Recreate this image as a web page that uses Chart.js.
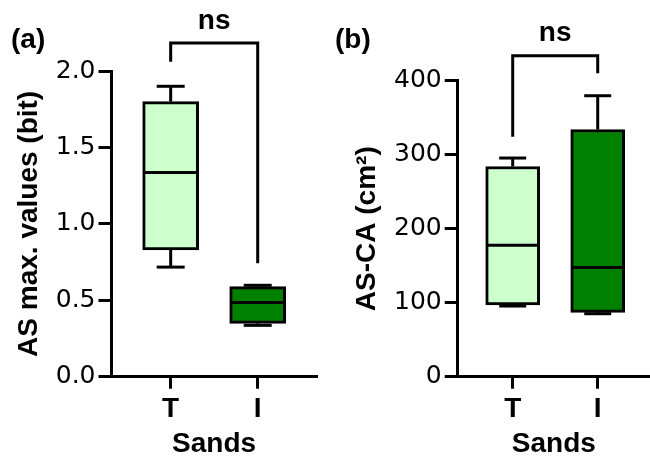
<!DOCTYPE html>
<html>
<head>
<meta charset="utf-8">
<script src="https://cdn.jsdelivr.net/npm/chart.js@4.4.1/dist/chart.umd.min.js"></script>
<style>
  html, body { margin: 0; padding: 0; background: #ffffff; }
  #wrap { position: relative; width: 650px; height: 456px; overflow: hidden; }
  .panel { position: absolute; top: 0; width: 325px; height: 456px; }
</style>
</head>
<body>
<div id="wrap">
  <div class="panel" style="left:0px"><canvas id="chartA" width="325" height="456"></canvas></div>
  <div class="panel" style="left:325px"><canvas id="chartB" width="325" height="456"></canvas></div>
</div>
<script>
// ---------- data ----------
const categories = ['T', 'I'];
const boxColors = ['#ccffcc', '#008000'];

// Panel (a): AS max. values (bit)
const minA    = [0.717, 0.336];
const q1A     = [0.829, 0.349];
const medianA = [1.336, 0.486];
const q3A     = [1.800, 0.589];
const maxA    = [1.900, 0.598];
const yTicksA = [0, 0.5, 1.0, 1.5, 2.0];
const bracketA = [2.06, 2.183, 0.742];   // left leg end, bar level, right leg end
const sigA = 'ns';

// Panel (b): AS-CA (cm²)
const minB    = [95.5, 85.1];
const q1B     = [96.9, 87.0];
const medianB = [177.6, 147.6];
const q3B     = [284.0, 334.0];
const maxB    = [295.5, 379.7];
const yTicksB = [0, 100, 200, 300, 400];
const bracketB = [324.3, 433.6, 410.0];
const sigB = 'ns';

// ---------- styling ----------
const BOLD = '"Liberation Sans", Arial, Helvetica, sans-serif';
const TICKFONT = '"DejaVu Sans", "Liberation Sans", Arial, sans-serif';
const LW = 3;

const boxPlotPlugin = {
  id: 'boxWhiskers',
  afterDatasetsDraw(chart, args, opts) {
    const ctx = chart.ctx;
    const xs = chart.scales.x, ys = chart.scales.y;
    const meta = chart.getDatasetMeta(0);
    ctx.save();
    ctx.strokeStyle = '#000';
    ctx.lineWidth = LW;
    ctx.lineCap = 'butt';
    for (let i = 0; i < opts.mins.length; i++) {
      const el = meta.data[i];
      const cx = xs.getPixelForValue(i);
      const half = el.width / 2;
      const capHalf = opts.capWidth / 2;
      // upper whisker
      ctx.beginPath();
      ctx.moveTo(cx, ys.getPixelForValue(opts.q3s[i]));
      ctx.lineTo(cx, ys.getPixelForValue(opts.maxs[i]));
      ctx.stroke();
      ctx.beginPath();
      ctx.moveTo(cx - capHalf, ys.getPixelForValue(opts.maxs[i]));
      ctx.lineTo(cx + capHalf, ys.getPixelForValue(opts.maxs[i]));
      ctx.stroke();
      // lower whisker
      ctx.beginPath();
      ctx.moveTo(cx, ys.getPixelForValue(opts.q1s[i]));
      ctx.lineTo(cx, ys.getPixelForValue(opts.mins[i]));
      ctx.stroke();
      ctx.beginPath();
      ctx.moveTo(cx - capHalf, ys.getPixelForValue(opts.mins[i]));
      ctx.lineTo(cx + capHalf, ys.getPixelForValue(opts.mins[i]));
      ctx.stroke();
      // median
      const my = ys.getPixelForValue(opts.medians[i]);
      ctx.beginPath();
      ctx.moveTo(el.x - half + 1, my);
      ctx.lineTo(el.x + half - 1, my);
      ctx.stroke();
    }
    ctx.restore();
  },
  afterDraw(chart, args, opts) {
    const ctx = chart.ctx;
    const xs = chart.scales.x, ys = chart.scales.y;
    const b = opts.bracket;
    const x0 = xs.getPixelForValue(0), x1 = xs.getPixelForValue(1);
    const yTop = ys.getPixelForValue(b[1]);
    ctx.save();
    ctx.strokeStyle = '#000';
    ctx.lineWidth = LW;
    ctx.lineJoin = 'miter';
    ctx.beginPath();
    ctx.moveTo(x0, ys.getPixelForValue(b[0]));
    ctx.lineTo(x0, yTop);
    ctx.lineTo(x1, yTop);
    ctx.lineTo(x1, ys.getPixelForValue(b[2]));
    ctx.stroke();
    ctx.fillStyle = '#000';
    ctx.font = 'bold 28px ' + BOLD;
    ctx.textAlign = 'center';
    ctx.textBaseline = 'alphabetic';
    ctx.fillText(opts.sig, (x0 + x1) / 2, yTop - 14.5);
    ctx.textAlign = 'left';
    ctx.fillText(opts.panelLabel, opts.labelX, opts.labelY);
    ctx.restore();
  }
};

function makePanel(id, cfg) {
  return new Chart(document.getElementById(id), {
    type: 'bar',
    data: {
      datasets: [{
        data: categories.map((c, i) => ({ x: i, y: [cfg.q1s[i], cfg.q3s[i]] })),
        backgroundColor: boxColors,
        borderColor: '#000000',
        borderWidth: LW,
        borderSkipped: false,
        barThickness: cfg.boxWidth
      }]
    },
    plugins: [boxPlotPlugin],
    options: {
      responsive: false,
      animation: false,
      events: [],
      layout: { padding: { top: cfg.padTop, right: cfg.padRight, left: 0, bottom: 0 } },
      plugins: {
        legend: { display: false },
        tooltip: { enabled: false },
        boxWhiskers: {
          mins: cfg.mins, q1s: cfg.q1s, medians: cfg.medians, q3s: cfg.q3s, maxs: cfg.maxs,
          capWidth: cfg.capWidth, bracket: cfg.bracket, sig: cfg.sig,
          panelLabel: cfg.panelLabel, labelX: cfg.labelX, labelY: cfg.labelY
        }
      },
      scales: {
        x: {
          type: 'linear',
          offset: false,
          min: cfg.xMin, max: cfg.xMax,
          afterBuildTicks: (s) => { s.ticks = categories.map((c, i) => ({ value: i })); },
          afterFit: (s) => { s.height = 79.3; },
          ticks: {
            callback: (v) => categories[v] !== undefined ? categories[v] : '',
            font: { family: BOLD, size: 28, weight: 'bold', lineHeight: 1 },
            color: '#000', padding: 7, maxRotation: 0, autoSkip: false
          },
          grid: { display: true, offset: false, drawOnChartArea: false, drawTicks: true, tickLength: 12, color: '#000', lineWidth: LW },
          border: { display: true, color: '#000', width: LW },
          title: {
            display: true, text: 'Sands', color: '#000', padding: 0,
            font: { family: BOLD, size: 28, weight: 'bold', lineHeight: 0.86 }
          }
        },
        y: {
          type: 'linear',
          min: cfg.yTicks[0], max: cfg.yTicks[cfg.yTicks.length - 1],
          afterBuildTicks: (s) => { s.ticks = cfg.yTicks.map(v => ({ value: v })); },
          afterFit: (s) => { s.width = cfg.yAxisWidth; },
          ticks: {
            callback: cfg.tickFmt,
            font: { family: TICKFONT, size: 25, weight: 'normal', lineHeight: 1 },
            color: '#000', padding: 3
          },
          grid: { display: true, drawOnChartArea: false, drawTicks: true, tickLength: 13, color: '#000', lineWidth: LW },
          border: { display: true, color: '#000', width: LW },
          title: {
            display: true, text: cfg.yTitle, color: '#000', padding: { top: cfg.yTitlePad, bottom: 0 },
            font: { family: BOLD, size: 28, weight: 'bold', lineHeight: 1 }
          }
        }
      }
    }
  });
}

makePanel('chartA', {
  mins: minA, q1s: q1A, medians: medianA, q3s: q3A, maxs: maxA,
  yTicks: yTicksA, tickFmt: (v) => Number(v).toFixed(1),
  bracket: bracketA, sig: sigA, panelLabel: '(a)', labelX: 11, labelY: 48,
  yTitle: 'AS max. values (bit)', yTitlePad: 15,
  padTop: 71, padRight: 8.3, yAxisWidth: 111.5,
  xMin: -0.68, xMax: 1.678, boxWidth: 56, capWidth: 28
});

makePanel('chartB', {
  mins: minB, q1s: q1B, medians: medianB, q3s: q3B, maxs: maxB,
  yTicks: yTicksB, tickFmt: (v) => String(v),
  bracket: bracketB, sig: sigB, panelLabel: '(b)', labelX: 10, labelY: 47.5,
  yTitle: 'AS-CA (cm²)', yTitlePad: 28,
  padTop: 80.7, padRight: 0, yAxisWidth: 132.7,
  xMin: -0.647, xMax: 1.615, boxWidth: 54, capWidth: 27
});
</script>
</body>
</html>
